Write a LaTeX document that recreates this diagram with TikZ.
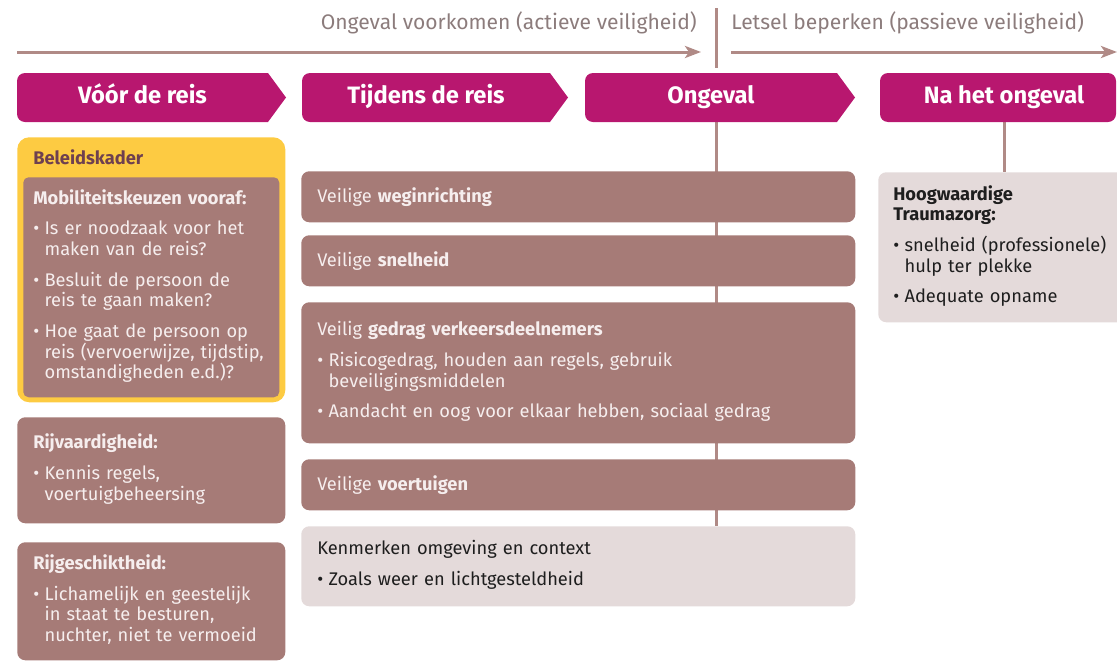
\documentclass[tikz,border=0pt]{standalone}
\usepackage{fontspec}
\setmainfont{Fira Sans}
\usetikzlibrary{arrows.meta,backgrounds}

\definecolor{fasekleur}{RGB}{184,23,111}
\definecolor{bruin}{RGB}{166,123,119}
\definecolor{licht}{RGB}{228,218,218}
\definecolor{geel}{RGB}{253,203,66}
\definecolor{titelkleur}{RGB}{110,64,80}
\definecolor{lijnkleur}{RGB}{176,138,134}
\definecolor{grijs}{RGB}{140,124,124}
\definecolor{wit}{RGB}{246,238,238}
\definecolor{zwart}{RGB}{30,30,30}

\newcommand{\tekst}{\fontsize{13.7}{15.5}\selectfont\setlength{\parskip}{7.5pt}\parindent=0pt}
\newcommand{\punt}[1]{\par\noindent\makebox[8.5pt][l]{•}\parbox[t]{\dimexpr\hsize-8.5pt\relax}{\raggedright #1\strut}\par\prevdepth=\dp\strutbox}
\newcommand{\fase}[4]{%
    \fill[fasekleur] (#3,73) [rounded corners=6pt] -- (#2,73) -- (#2,122) [sharp corners] -- (#3,122) -- (#3+18,97.5) -- cycle;
    \node[fasetekst] (#1) at ({(#2+#3)/2},97.5) {#4};
}

\begin{document}
\begin{tikzpicture}[x=0.75pt, y=-0.75pt,
    blok/.style={fill=bruin, rounded corners=6pt, anchor=north west, align=left, inner xsep=12pt, inner ysep=0pt, text=wit, font=\tekst},
    lichtblok/.style={blok, fill=licht, text=zwart},
    fasetekst/.style={text=white, font=\fontsize{17.8}{20}\selectfont\bfseries, minimum height=36.75pt, inner sep=0pt, text height=12.5pt, text depth=3.5pt},
    lijn/.style={draw=lijnkleur, line width=2.25pt},
    pijl/.style={lijn, -{Stealth[length=12pt, width=9pt, inset=3pt]}},
    kop/.style={text=grijs, font=\fontsize{15.8}{18}\selectfont, inner sep=0pt}]

    \useasboundingbox (0,0) rectangle (1117,661);
    \clip (0,0) rectangle (1117,661);

    % bovenste balk
    \node[kop, anchor=base east] (actief) at (697,29) {Ongeval voorkomen (actieve veiligheid)};
    \node[kop, anchor=base west] (passief) at (731,29) {Letsel beperken (passieve veiligheid)};
    \coordinate (scheiding) at (716,8);
    \coordinate (scheidingonder) at (716,68);
    \coordinate (actiefbegin) at (17,52);
    \coordinate (actiefeind) at (701,52);
    \coordinate (passiefbegin) at (731,52);
    \coordinate (passiefeind) at (1117,52);
    \draw[lijn] (scheiding) -- (scheidingonder);
    \draw[pijl] (actiefbegin) -- (actiefeind);
    \draw[pijl] (passiefbegin) -- (passiefeind);

    % fasen
    \fase{voor}{17}{268}{Vóór de reis}
    \fase{tijdens}{302}{550}{Tijdens de reis}
    \fase{ongeval}{585}{837}{Ongeval}
    \fill[fasekleur, rounded corners=6pt] (880,73) rectangle (1116,122);
    \node[fasetekst] (na) at (1004,97.5) {Na het ongeval};

    % voor de reis
    \node[fill=geel, rounded corners=9pt, anchor=north west, minimum width=201pt, minimum height=198.75pt, inner sep=0pt] (beleid) at (17,137) {};
    \node[anchor=base west, inner sep=0pt, text=titelkleur, font=\tekst\bfseries] (beleidtitel) at (33,164) {Beleidskader};
    \node[blok, rounded corners=4pt, inner xsep=7.5pt, text width=177pt, minimum height=165pt] (mobiliteit) at (23,177) {%
        \textbf{Mobiliteitskeuzen vooraf:}
        \punt{Is er noodzaak voor het\\maken van de reis?}
        \punt{Besluit de persoon de\\reis te gaan maken?}
        \punt{Hoe gaat de persoon op\\reis (vervoerwijze, tijdstip,\\omstandigheden e.d.)?}};
    \node[blok, text width=177pt, minimum height=79.5pt] (rijvaardigheid) at (17,417) {%
        \textbf{Rijvaardigheid:}
        \punt{Kennis regels,\\voertuigbeheersing}};
    \node[blok, text width=177pt, minimum height=88.5pt] (rijgeschiktheid) at (17,542) {%
        \textbf{Rijgeschiktheid:}
        \punt{Lichamelijk en geestelijk\\in staat te besturen,\\nuchter, niet te vermoeid}};

    % tijdens de reis
    \node[blok, text width=391.5pt, minimum height=38.25pt] (weginrichting) at (301,171) {Veilige \textbf{weginrichting}};
    \node[blok, text width=391.5pt, minimum height=38.25pt] (snelheid) at (301,235) {Veilige \textbf{snelheid}};
    \node[blok, text width=391.5pt, minimum height=105.75pt] (gedrag) at (301,302) {%
        Veilig \textbf{gedrag verkeersdeelnemers}
        \punt{Risicogedrag, houden aan regels, gebruik\\beveiligingsmiddelen}
        \punt{Aandacht en oog voor elkaar hebben, sociaal gedrag}};
    \node[blok, text width=391.5pt, minimum height=38.25pt] (voertuigen) at (301,459) {Veilige \textbf{voertuigen}};
    \node[lichtblok, text width=391.5pt, minimum height=60pt] (kenmerken) at (301,526) {%
        Kenmerken omgeving en context
        \punt{Zoals weer en lichtgesteldheid}};

    % na het ongeval
    \node[lichtblok, inner xsep=11.25pt, text width=177pt, minimum height=112.5pt] (traumazorg) at (878,172) {%
        \textbf{Hoogwaardige\\Traumazorg:}
        \punt{snelheid (professionele)\\hulp ter plekke}
        \punt{Adequate opname}};

    \begin{scope}[on background layer]
        \draw[lijn] (ongeval.south -| scheiding) -- (kenmerken.north -| scheiding);
        \draw[lijn] (na.south) -- (na.south |- traumazorg.north);
    \end{scope}

\end{tikzpicture}
\end{document}
